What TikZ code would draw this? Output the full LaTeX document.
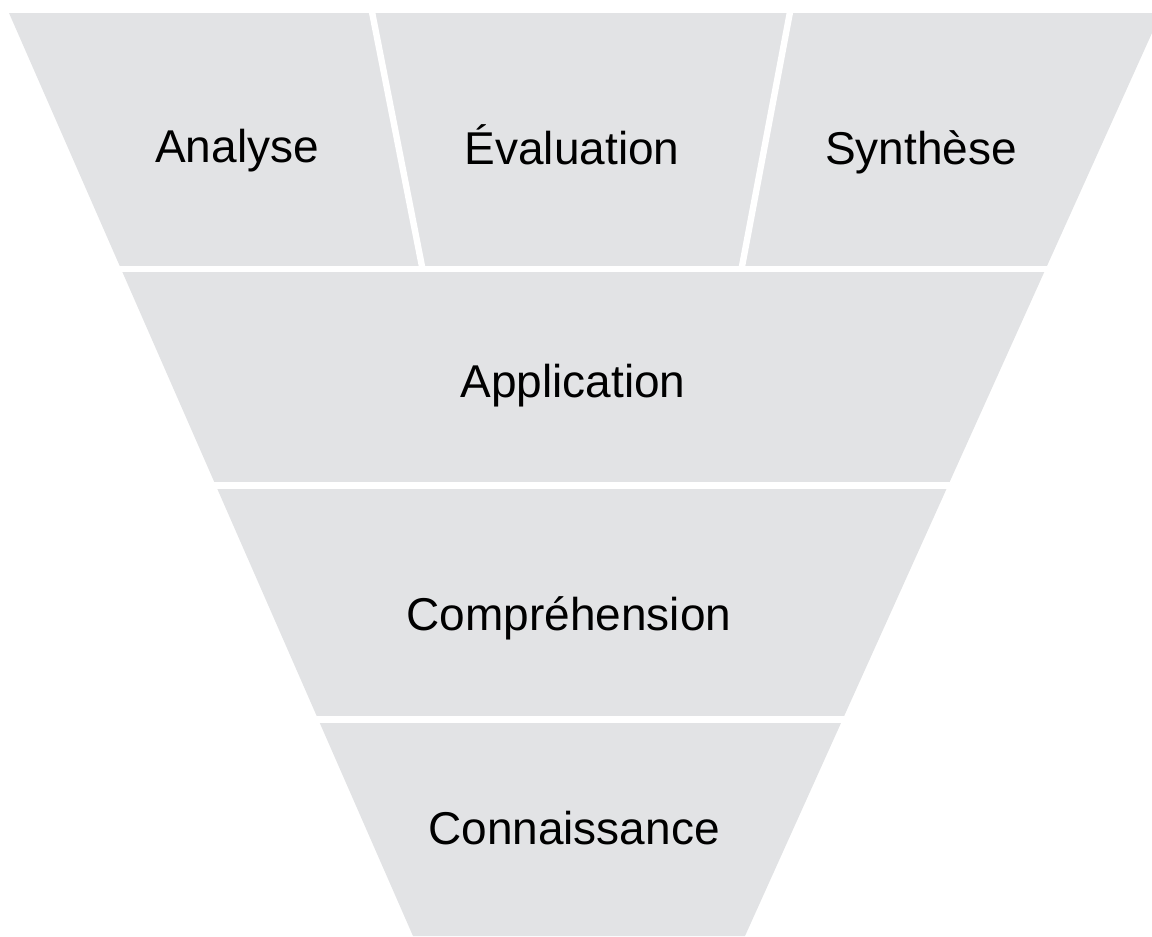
\documentclass[tikz,border=0pt]{standalone}
\usepackage{fontspec}
\setmainfont{Liberation Sans}
\definecolor{bandgrey}{RGB}{226,227,229}
\begin{document}
\begin{tikzpicture}[x=0.75pt,y=-0.75pt,
  lbl/.style={anchor=base,font=\fontsize{34.5}{40}\selectfont,text=black,inner sep=0pt},
  gap/.style={draw=white,line width=4.8pt}]
\useasboundingbox (0,0) rectangle (1152,936);
\clip (0,0) rectangle (1152,936);
% funnel
\fill[bandgrey] (9,13) -- (1161,13) -- (745,936) -- (413,936) -- cycle;
% dividers
\draw[gap] (100,269) -- (1100,269);
\draw[gap] (150,485.5) -- (1000,485.5);
\draw[gap] (250,719.5) -- (900,719.5);
\draw[gap] (372,12) -- (422.5,269);
\draw[gap] (790,12) -- (741.5,269);
% labels
\node[lbl] (ana) at (237,162) {Analyse};
\node[lbl] (eva) at (572,164) {Évaluation};
\node[lbl] (syn) at (921,164) {Synthèse};
\node[lbl] (app) at (573,397) {Application};
\node[lbl] (com) at (569,630) {Compréhension};
\node[lbl] (con) at (574,844) {Connaissance};
\end{tikzpicture}
\end{document}
